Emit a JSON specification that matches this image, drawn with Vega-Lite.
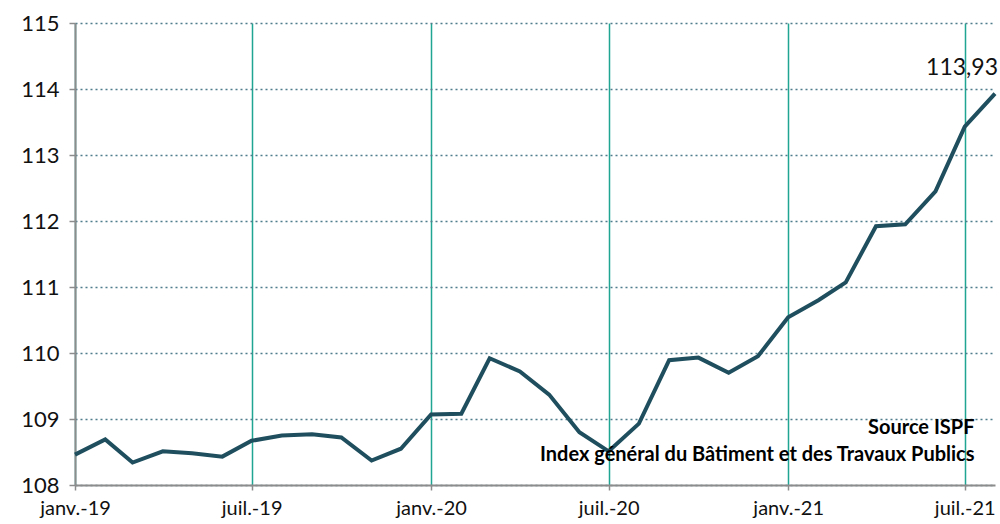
{
  "$schema": "https://vega.github.io/schema/vega-lite/v6.json",
  "autosize": "none",
  "width": 920,
  "height": 462,
  "padding": {"left": 75, "top": 23, "right": 5, "bottom": 39},
  "background": "white",
  "config": {
    "view": {"stroke": null},
    "font": "Lato",
    "locale": {"number": {"decimal": ",", "thousands": " ", "grouping": [3], "currency": ["", " €"]}}
  },
  "datasets": {
    "series": [
      {"date": "2019-01-01", "value": 108.46},
      {"date": "2019-02-01", "value": 108.69},
      {"date": "2019-03-01", "value": 108.34},
      {"date": "2019-04-01", "value": 108.51},
      {"date": "2019-05-01", "value": 108.48},
      {"date": "2019-06-01", "value": 108.43},
      {"date": "2019-07-01", "value": 108.67},
      {"date": "2019-08-01", "value": 108.75},
      {"date": "2019-09-01", "value": 108.77},
      {"date": "2019-10-01", "value": 108.72},
      {"date": "2019-11-01", "value": 108.37},
      {"date": "2019-12-01", "value": 108.55},
      {"date": "2020-01-01", "value": 109.07},
      {"date": "2020-02-01", "value": 109.08},
      {"date": "2020-03-01", "value": 109.92},
      {"date": "2020-04-01", "value": 109.72},
      {"date": "2020-05-01", "value": 109.37},
      {"date": "2020-06-01", "value": 108.8},
      {"date": "2020-07-01", "value": 108.51},
      {"date": "2020-08-01", "value": 108.93},
      {"date": "2020-09-01", "value": 109.89},
      {"date": "2020-10-01", "value": 109.93},
      {"date": "2020-11-01", "value": 109.7},
      {"date": "2020-12-01", "value": 109.95},
      {"date": "2021-01-01", "value": 110.54},
      {"date": "2021-02-01", "value": 110.8},
      {"date": "2021-03-01", "value": 111.07},
      {"date": "2021-04-01", "value": 111.92},
      {"date": "2021-05-01", "value": 111.95},
      {"date": "2021-06-01", "value": 112.45},
      {"date": "2021-07-01", "value": 113.43},
      {"date": "2021-08-01", "value": 113.93, "last": true}
    ],
    "notes": [
      {"date": "2021-07-11", "value": 108.87, "text": "Source ISPF"},
      {"date": "2021-07-11", "value": 108.46, "text": "Index général du Bâtiment et des Travaux Publics"}
    ]
  },
  "layer": [
    {
      "data": {"name": "series"},
      "mark": {"type": "line", "color": "#1f4f5e", "strokeWidth": 4, "strokeJoin": "miter"},
      "encoding": {
        "x": {
          "field": "date", "type": "temporal",
          "scale": {"type": "utc", "domain": [{"year": 2019, "month": 1, "date": 1, "utc": true}, {"year": 2021, "month": 8, "date": 1, "utc": true}]},
          "axis": {
            "title": null,
            "values": [
              {"year": 2019, "month": 1, "date": 1, "utc": true},
              {"year": 2019, "month": 7, "date": 1, "utc": true},
              {"year": 2020, "month": 1, "date": 1, "utc": true},
              {"year": 2020, "month": 7, "date": 1, "utc": true},
              {"year": 2021, "month": 1, "date": 1, "utc": true},
              {"year": 2021, "month": 7, "date": 1, "utc": true}
            ],
            "labelExpr": "(utcFormat(datum.value, '%m') == '01' ? 'janv.-' : 'juil.-') + utcFormat(datum.value, '%y')",
            "labelFlush": false,
            "labelOverlap": false,
            "grid": true, "gridColor": "#1fa592", "gridWidth": 1.5, "gridDash": [],
            "domainColor": "#8c8c8c", "domainWidth": 2,
            "tickColor": "#8c8c8c", "tickSize": 5, "tickWidth": 1.5,
            "labelFontSize": 20, "labelColor": "#111111", "labelPadding": 8, "labelFont": "Lato"
          }
        },
        "y": {
          "field": "value", "type": "quantitative",
          "scale": {"domain": [108, 115], "nice": false, "zero": false},
          "axis": {
            "title": null,
            "values": [108, 109, 110, 111, 112, 113, 114, 115],
            "format": "d",
            "grid": true, "gridColor": "#4f7d8c", "gridDash": [2, 3], "gridWidth": 1.5,
            "domainColor": "#8c8c8c", "domainWidth": 2,
            "tickColor": "#8c8c8c", "tickSize": 6, "tickWidth": 1.5,
            "labelFontSize": 22, "labelColor": "#111111", "labelPadding": 10, "labelFont": "Lato"
          }
        }
      }
    },
    {
      "data": {"name": "series"},
      "transform": [{"filter": "datum.last === true"}],
      "mark": {"type": "text", "align": "right", "baseline": "alphabetic", "dx": 3, "dy": -19, "fontSize": 23, "color": "#111111", "font": "Lato"},
      "encoding": {
        "x": {"field": "date", "type": "temporal"},
        "y": {"field": "value", "type": "quantitative"},
        "text": {"field": "value", "type": "quantitative", "format": ".2f"}
      }
    },
    {
      "data": {"name": "notes"},
      "mark": {"type": "text", "align": "right", "baseline": "middle", "fontSize": 20, "fontWeight": "bold", "color": "#000000", "font": "Lato"},
      "encoding": {
        "x": {"field": "date", "type": "temporal"},
        "y": {"field": "value", "type": "quantitative"},
        "text": {"field": "text", "type": "nominal"}
      }
    }
  ]
}
